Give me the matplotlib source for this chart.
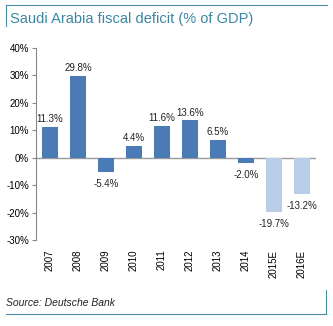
import numpy as np
import matplotlib.pyplot as plt
from matplotlib.lines import Line2D

# -------------------------------
# Data
# -------------------------------
years = ['2007', '2008', '2009', '2010', '2011', '2012', '2013', '2014', '2015E', '2016E']
deficit = [11.3, 29.8, -5.4, 4.4, 11.6, 13.6, 6.5, -2.0, -19.7, -13.2]
is_estimate = [False] * 8 + [True] * 2

dark_blue = '#4a7bb7'
light_blue = '#b9cde6'
title_col = '#3a87a3'

plt.rcParams['font.family'] = ['Liberation Sans', 'DejaVu Sans']

fig = plt.figure(figsize=(3.33, 3.26), dpi=100)
ax = fig.add_axes([0.108, 0.264, 0.841, 0.589])

x = np.arange(len(years))
colors = [light_blue if e else dark_blue for e in is_estimate]
ax.bar(x, deficit, width=0.55, color=colors, zorder=2)

# value labels above / below each bar
for xi, v in zip(x, deficit):
    if v >= 0:
        ax.text(xi, v + 1.0, f'{v:.1f}%', ha='center', va='bottom', fontsize=7, color='#222222')
    else:
        ax.text(xi, v - 2.5, f'{v:.1f}%', ha='center', va='top', fontsize=7, color='#222222')

ax.axhline(0, color='#999999', lw=1, zorder=1)

ax.set_xlim(-0.5, len(years) - 0.5)
ax.set_ylim(-30, 40)
ax.set_yticks(range(-30, 41, 10))
ax.set_yticklabels([f'{t}%' for t in range(-30, 41, 10)], fontsize=7)
ax.set_xticks(x)
ax.set_xticklabels(years, rotation=90, fontsize=7)

for s in ['top', 'right', 'bottom']:
    ax.spines[s].set_visible(False)
ax.spines['left'].set_color('#888888')
ax.tick_params(axis='y', length=3, color='#888888', pad=2)
ax.tick_params(axis='x', length=0, pad=7)

# title and source with the framing lines
fig.text(0.03, 0.943, 'Saudi Arabia fiscal deficit (% of GDP)', fontsize=10.5,
         color=title_col, va='center', ha='left')
fig.text(0.017, 0.072, 'Source: Deutsche Bank', fontsize=7.5, style='italic',
         va='center', ha='left', color='#222222')

frame_col = '#4a8ea8'
fig.add_artist(Line2D([0.017, 0.982], [0.985, 0.985], color=frame_col, lw=0.8))
fig.add_artist(Line2D([0.017, 0.017], [0.985, 0.92], color=frame_col, lw=0.8))
fig.add_artist(Line2D([0.017, 0.978], [0.037, 0.037], color=frame_col, lw=0.8))
fig.add_artist(Line2D([0.978, 0.978], [0.037, 0.11], color=frame_col, lw=0.8))

fig.savefig('out.png', dpi=100)
